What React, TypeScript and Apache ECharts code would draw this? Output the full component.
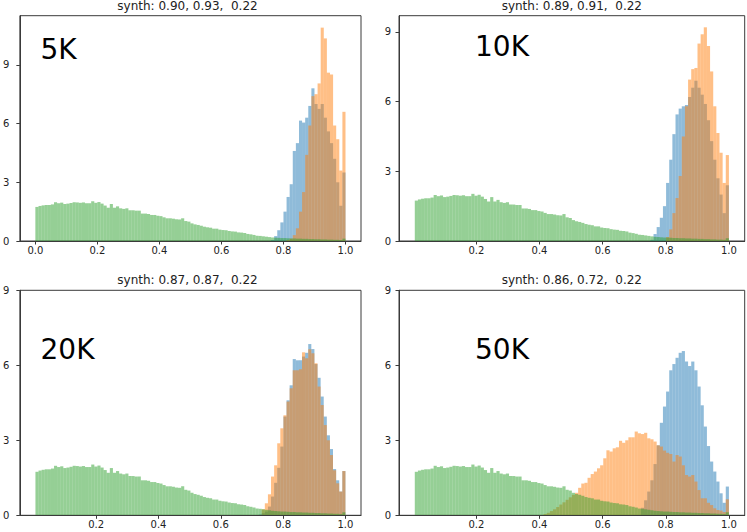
import React, { useEffect, useRef } from "react";
import * as echarts from "echarts";

// ---- data (density histograms, 100 bins between binLow and 1.0) ----
const panelNames = ["5K", "10K", "20K", "50K"];
const panelTitles = [
  "synth: 0.90, 0.93,  0.22",
  "synth: 0.89, 0.91,  0.22",
  "synth: 0.87, 0.87,  0.22",
  "synth: 0.86, 0.72,  0.22",
];
const binLow = [0, 0.005, 0.005, 0.005];
const binHigh = 1.0;
const binCount = 100;
const xMin = [-0.05, -0.045, -0.045, -0.045];
const xMax = [1.05, 1.05, 1.05, 1.05];
const yMax = [11.51, 9.7, 9, 9];
const xTicksFirst = [0, 0.2, 0.4, 0.6, 0.8, 1.0];
const xTicksOther = [0.2, 0.4, 0.6, 0.8, 1.0];
const yTicks = [0, 3, 6, 9];

// green series (same in every panel), bins 0..99
const green = [
  1.74, 1.79, 1.82, 1.84, 1.84, 1.87, 1.98, 1.93, 1.96, 1.89,
  1.91, 1.94, 1.98, 1.97, 1.95, 1.97, 1.93, 1.93, 2.03, 1.95,
  1.99, 1.91, 1.81, 1.7, 1.89, 1.7, 1.77, 1.67, 1.64, 1.67,
  1.57, 1.57, 1.55, 1.55, 1.4, 1.4, 1.38, 1.33, 1.33, 1.29,
  1.27, 1.21, 1.16, 1.16, 1.14, 1.11, 1.1, 1.16, 1.02, 0.99,
  0.9, 0.85, 0.82, 0.78, 0.73, 0.7, 0.68, 0.63, 0.63, 0.58,
  0.56, 0.55, 0.51, 0.49, 0.48, 0.44, 0.43, 0.41, 0.36, 0.34,
  0.31, 0.27, 0.26, 0.24, 0.22, 0.2, 0.18, 0.17, 0.16, 0.15,
  0.15, 0.14, 0.13, 0.13, 0.12, 0.12, 0.11, 0.11, 0.1, 0.1,
  0.09, 0.09, 0.08, 0.08, 0.07, 0.07, 0.06, 0.06, 0.05, 0.12,
];

// 5K
const blue5KStart = 76;
const blue5K = [0.05, 0.25, 0.55, 0.95, 1.5, 2.25, 2.9, 4.6, 5.0, 6.15, 6.05, 6.3, 6.9, 7.8, 7.0, 6.75, 7.0, 6.3, 5.6, 5.0, 4.2, 3.0, 1.8, 3.5];
const orange5KStart = 81;
const orange5K = [0.05, 0.12, 0.3, 0.65, 1.5, 2.5, 4.4, 5.9, 7.4, 7.5, 8.05, 10.9, 10.35, 8.6, 8.5, 5.9, 5.2, 3.6, 6.6];

// 10K
const blue10KStart = 75;
const blue10K = [0.05, 0.3, 0.6, 1.0, 1.5, 2.5, 3.5, 4.6, 5.45, 5.7, 5.8, 5.85, 6.2, 6.6, 6.9, 6.6, 6.3, 5.9, 5.2, 4.3, 3.5, 2.7, 2.0, 1.2, 2.4];
const orange10KStart = 80;
const orange10K = [0.17, 0.5, 1.2, 1.85, 2.8, 4.5, 5.8, 6.95, 7.4, 7.45, 8.5, 8.9, 9.2, 8.4, 7.3, 5.8, 4.65, 3.8, 2.5, 3.7];

// 20K
const blue20KStart = 72;
const blue20K = [0.03, 0.08, 0.15, 0.35, 0.75, 1.3, 1.9, 2.75, 3.95, 4.6, 5.2, 6.25, 6.2, 6.2, 6.35, 6.5, 6.85, 6.65, 6.05, 5.5, 4.75, 3.95, 3.2, 2.65, 1.85, 1.4, 0.95, 1.77];
const orange20KStart = 73;
const orange20K = [0.24, 0.48, 0.84, 1.55, 2.0, 2.88, 3.48, 4.0, 4.55, 5.08, 5.8, 5.8, 5.84, 6.52, 6.28, 6.64, 6.48, 6.08, 5.15, 4.41, 3.61, 3.0, 2.41, 1.8, 1.28, 0.95, 1.77];

// 50K
const blue50KStart = 72;
const blue50K = [0.3, 0.6, 0.95, 1.4, 2.05, 2.8, 3.7, 4.35, 4.95, 5.8, 6.05, 6.3, 6.5, 6.57, 6.15, 5.97, 6.15, 5.8, 5.15, 4.4, 3.55, 2.77, 2.15, 1.75, 1.35, 0.88, 0.5, 1.15];
const orange50KStart = 41;
const orange50K = [
  0.05, 0.1, 0.17, 0.24, 0.33, 0.43, 0.52, 0.62, 0.72, 0.82,
  0.9, 1.1, 1.27, 1.3, 1.5, 1.65, 1.75, 1.88, 2.0, 2.28,
  2.6, 2.55, 2.68, 2.72, 2.98, 2.9, 3.0, 3.12, 3.12, 3.35,
  3.28, 3.25, 3.3, 3.08, 3.04, 2.95, 2.8, 2.75, 2.59, 2.5,
  2.45, 2.15, 2.41, 2.35, 2.0, 1.61, 1.55, 1.61, 1.35, 1.01,
  0.68, 0.68, 0.5, 0.41, 0.28, 0.21, 0.19, 0.13, 0.64,
];

const blueSets = [blue5K, blue10K, blue20K, blue50K];
const blueStarts = [blue5KStart, blue10KStart, blue20KStart, blue50KStart];
const orangeSets = [orange5K, orange10K, orange20K, orange50K];
const orangeStarts = [orange5KStart, orange10KStart, orange20KStart, orange50KStart];

// ---- layout / style ----
const GRIDS = [
  { left: 14.5, top: 15.7, width: 346.5, height: 225.3 },
  { left: 399, top: 15.7, width: 345.7, height: 225.3 },
  { left: 14.3, top: 290.3, width: 346.7, height: 225 },
  { left: 399, top: 290.3, width: 345.7, height: 225 },
];
const Y_LABEL_MARGIN = [10.5, 8, 10.5, 8];
const TITLE_POS = [
  [187.5, 6.2],
  [571.8, 6.2],
  [187.5, 280.4],
  [571.8, 280.4],
];
const NAME_POS = [
  [40.5, 49],
  [475, 46.5],
  [40.5, 349.2],
  [475, 349.2],
];
const BLUE = "rgba(31,119,180,0.5)";
const ORANGE = "rgba(255,127,14,0.5)";
const GREEN = "rgba(44,160,44,0.5)";
const FONT = "DejaVu Sans";
const AXIS_COLOR = "#3a3a3a";

function toBins(values: number[], start: number, lo: number) {
  const w = (binHigh - lo) / binCount;
  return values.map((v, k) => [lo + (start + k) * w, lo + (start + k + 1) * w, v]);
}

function histSeries(idx: number, data: number[][], color: string) {
  return {
    type: "custom",
    xAxisIndex: idx,
    yAxisIndex: idx,
    coordinateSystem: "cartesian2d",
    encode: { x: [0, 1], y: 2 },
    data,
    z: 2,
    renderItem: (params: any, api: any) => {
      const x0 = api.value(0);
      const x1 = api.value(1);
      const h = api.value(2);
      const p0 = api.coord([x0, h]);
      const p1 = api.coord([x1, 0]);
      return {
        type: "rect",
        shape: { x: p0[0], y: p0[1], width: p1[0] - p0[0], height: p1[1] - p0[1] },
        style: { fill: color },
      };
    },
  };
}

export default function App() {
  const ref = useRef<HTMLDivElement>(null);
  useEffect(() => {
    if (!ref.current) return;
    const chart = echarts.init(ref.current, undefined, { renderer: "svg" });
    const grid = GRIDS.map((g) => ({
      ...g,
      show: true,
      borderColor: AXIS_COLOR,
      borderWidth: 1,
      backgroundColor: "transparent",
      containLabel: false,
    }));
    const xAxis = GRIDS.map((_, i) => {
      const ticks = i === 0 ? xTicksFirst : xTicksOther;
      return {
        type: "value",
        gridIndex: i,
        min: xMin[i],
        max: xMax[i],
        z: 5,
        axisLine: { show: true, onZero: false, lineStyle: { color: AXIS_COLOR, width: 1 } },
        axisTick: { show: true, length: 3.5, customValues: ticks, lineStyle: { color: AXIS_COLOR, width: 1 } },
        axisLabel: {
          customValues: ticks,
          formatter: (v: number) => v.toFixed(1),
          fontSize: 10,
          fontFamily: FONT,
          color: "#222",
          margin: 4,
        },
        splitLine: { show: false },
      };
    });
    const yAxis = GRIDS.map((_, i) => ({
      type: "value",
      gridIndex: i,
      min: 0,
      max: yMax[i],
      z: 5,
      axisLine: { show: true, onZero: false, lineStyle: { color: AXIS_COLOR, width: 1 } },
      axisTick: { show: true, length: 3.5, customValues: yTicks, lineStyle: { color: AXIS_COLOR, width: 1 } },
      axisLabel: {
        customValues: yTicks,
        formatter: (v: number) => String(v),
        fontSize: 10,
        fontFamily: FONT,
        color: "#222",
        margin: Y_LABEL_MARGIN[i],
      },
      splitLine: { show: false },
    }));
    const series: any[] = [];
    GRIDS.forEach((_, i) => {
      const lo = binLow[i];
      series.push(histSeries(i, toBins(blueSets[i], blueStarts[i], lo), BLUE));
      series.push(histSeries(i, toBins(orangeSets[i], orangeStarts[i], lo), ORANGE));
      series.push(histSeries(i, toBins(green, 0, lo), GREEN));
    });
    const graphic: any[] = [];
    panelTitles.forEach((t, i) => {
      graphic.push({
        type: "text",
        x: TITLE_POS[i][0],
        y: TITLE_POS[i][1],
        z: 10,
        style: { text: t, font: `12px "${FONT}"`, fill: "#222", textAlign: "center", textVerticalAlign: "middle" },
      });
    });
    panelNames.forEach((t, i) => {
      graphic.push({
        type: "text",
        x: NAME_POS[i][0],
        y: NAME_POS[i][1],
        z: 10,
        style: { text: t, font: `28px "${FONT}"`, fill: "#000", textAlign: "left", textVerticalAlign: "middle" },
      });
    });
    chart.setOption({
      animation: false,
      backgroundColor: "#fff",
      grid,
      xAxis,
      yAxis,
      series,
      graphic,
    });
    return () => chart.dispose();
  }, []);
  return (
    <div
      ref={ref}
      style={{ position: "absolute", left: 0, top: 0, width: 747, height: 532 }}
    />
  );
}
